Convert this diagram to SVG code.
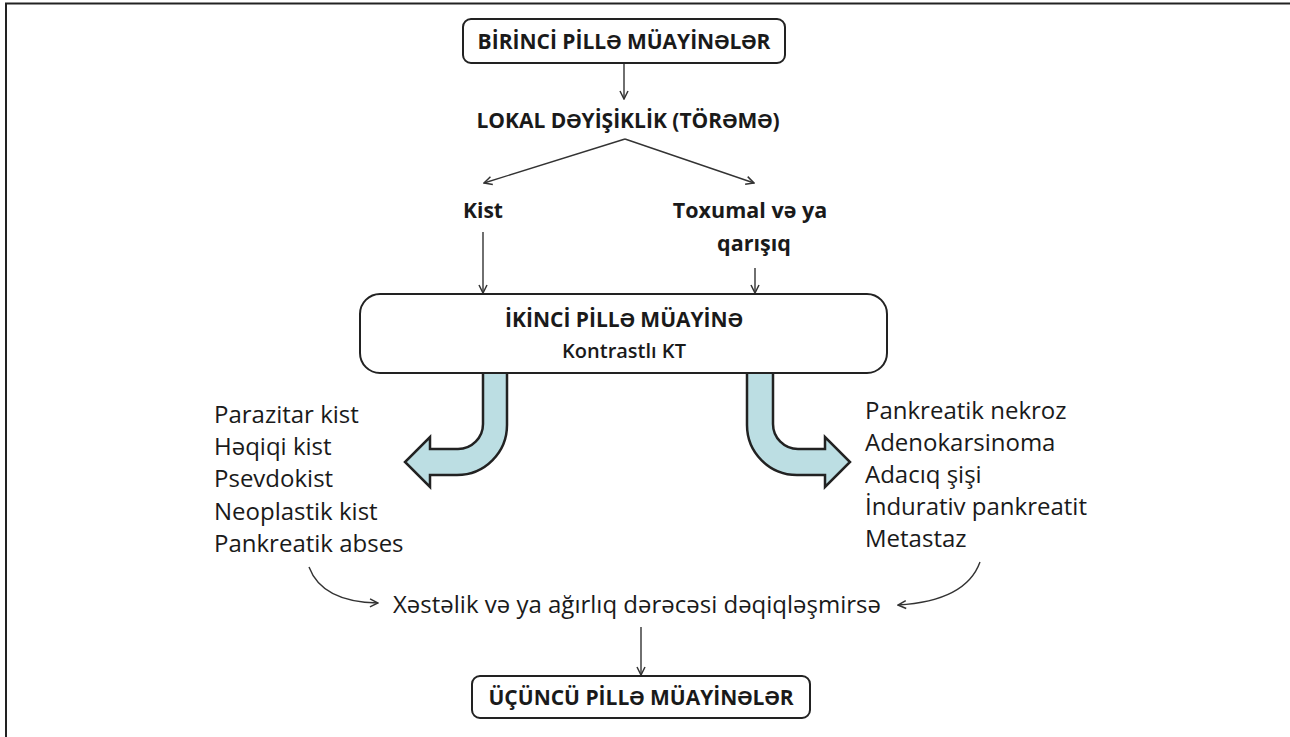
<svg xmlns="http://www.w3.org/2000/svg" width="1290" height="737" viewBox="0 0 1290 737">
<style>
.box{fill:#fff;stroke:#222;stroke-width:2}
.ttl{font-family:"Open Sans","Liberation Sans",sans-serif;font-weight:700;font-size:21px;fill:#1a1a1a;text-anchor:middle}
.sub{font-family:"Open Sans","Liberation Sans",sans-serif;font-weight:600;font-size:20px;fill:#1a1a1a;text-anchor:middle}
.lst{font-family:"Open Sans","Liberation Sans",sans-serif;font-size:24px;fill:#1a1a1a}
.ln{fill:none;stroke:#333;stroke-width:1.4}
.big{fill:#bcdee3;stroke:#222;stroke-width:2.5;stroke-linejoin:miter}
</style>
<defs>
<marker id="ah" viewBox="0 0 10 10" refX="9" refY="5" markerWidth="10" markerHeight="10" markerUnits="userSpaceOnUse" orient="auto">
<path d="M1,1 L9,5 L1,9" fill="none" stroke="#333" stroke-width="1.5"/>
</marker>
</defs>
<rect width="1290" height="737" fill="#fff"/>
<g id="frame">
<path d="M6,737 L6,3.5 L1290,3.5" fill="none" stroke="#222" stroke-width="2"/>
</g>
<g id="connectors">
<line class="ln" x1="624" y1="63" x2="624" y2="99" marker-end="url(#ah)"/>
<path class="ln" d="M625,139 L484,183" marker-end="url(#ah)"/>
<path class="ln" d="M625,139 L754,183" marker-end="url(#ah)"/>
<line class="ln" x1="483" y1="232" x2="483" y2="293" marker-end="url(#ah)"/>
<line class="ln" x1="755" y1="268" x2="755" y2="293" marker-end="url(#ah)"/>
<path class="big" d="M483,373 L483,424 A25,25 0 0 1 458,449 L430,449 L430,437 L405,462 L430,487 L430,475 L457,475 A50,50 0 0 0 507,425 L507,373"/>
<path class="big" d="M747,373 L747,425 A50,50 0 0 0 797,475 L825,475 L825,487 L850,462 L825,437 L825,449 L798,449 A25,25 0 0 1 773,424 L773,373"/>
<path class="ln" d="M309,567 Q322,602 378,603" marker-end="url(#ah)"/>
<path class="ln" d="M980,562 Q966,601 898,605" marker-end="url(#ah)"/>
<line class="ln" x1="641" y1="627" x2="641" y2="675" marker-end="url(#ah)"/>
</g>
<g id="n-birinci">
<rect class="box" x="463" y="19" width="322" height="44" rx="8"/>
<text class="ttl" x="624" y="49">BİRİNCİ PİLLƏ MÜAYİNƏLƏR</text>
</g>
<g id="n-lokal">
<text class="ttl" x="628" y="128">LOKAL DƏYİŞİKLİK (TÖRƏMƏ)</text>
</g>
<g id="n-kist">
<text class="ttl" x="483" y="218">Kist</text>
</g>
<g id="n-toxumal">
<text class="ttl" x="750" y="218" style="font-size:21.5px">Toxumal və ya</text>
<text class="ttl" x="754" y="251" style="font-size:21.5px">qarışıq</text>
</g>
<g id="n-ikinci">
<rect class="box" x="360" y="294" width="527" height="79" rx="20"/>
<text class="ttl" x="624" y="327">İKİNCİ PİLLƏ MÜAYİNƏ</text>
<text class="sub" x="624" y="358">Kontrastlı KT</text>
</g>
<g id="n-left-list">
<text class="lst" x="214" y="423">Parazitar kist</text>
<text class="lst" x="214" y="455">Həqiqi kist</text>
<text class="lst" x="214" y="487">Psevdokist</text>
<text class="lst" x="214" y="520">Neoplastik kist</text>
<text class="lst" x="214" y="552">Pankreatik abses</text>
</g>
<g id="n-right-list">
<text class="lst" x="865" y="419">Pankreatik nekroz</text>
<text class="lst" x="865" y="451">Adenokarsinoma</text>
<text class="lst" x="865" y="483">Adacıq şişi</text>
<text class="lst" x="865" y="515">İndurativ pankreatit</text>
<text class="lst" x="865" y="547">Metastaz</text>
</g>
<g id="n-xestelik">
<text class="lst" x="637" y="613" text-anchor="middle">Xəstəlik və ya ağırlıq dərəcəsi dəqiqləşmirsə</text>
</g>
<g id="n-ucuncu">
<rect class="box" x="472" y="676" width="338" height="42" rx="8"/>
<text class="ttl" x="641" y="705">ÜÇÜNCÜ PİLLƏ MÜAYİNƏLƏR</text>
</g>
</svg>
